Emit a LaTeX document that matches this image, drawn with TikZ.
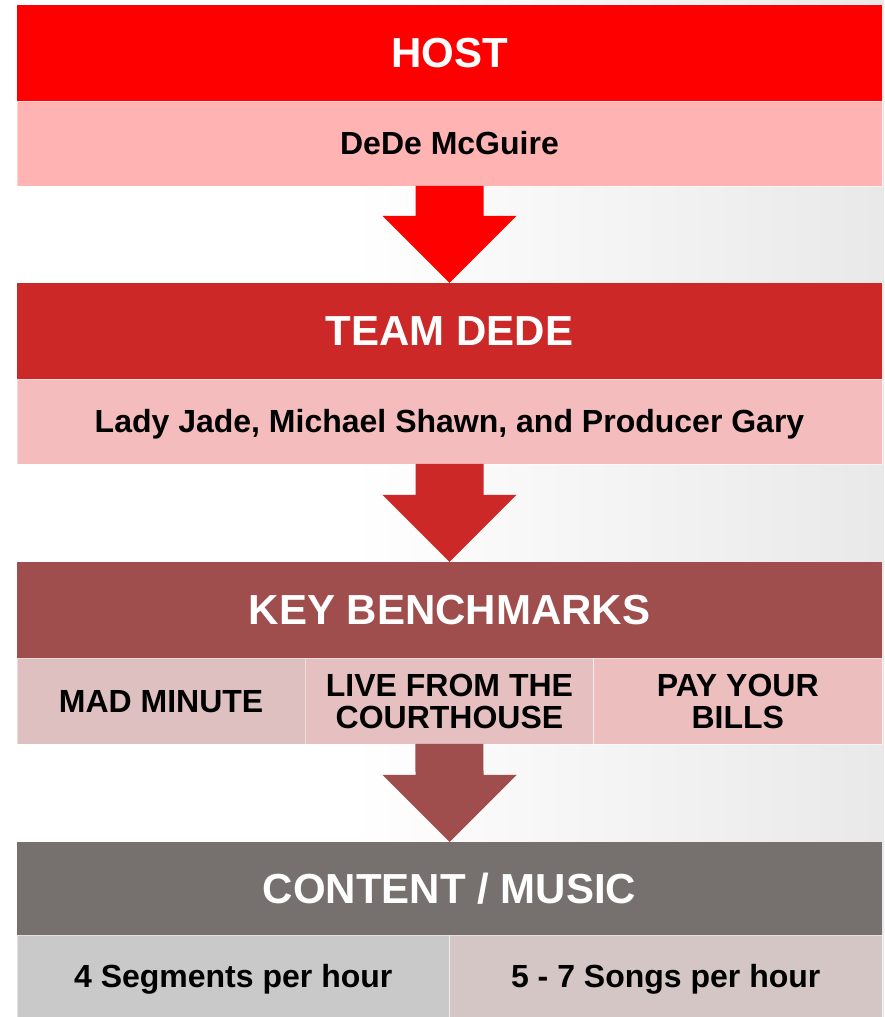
\documentclass[tikz,border=0pt]{standalone}
\usepackage{fontspec}
\setmainfont{Liberation Sans}
\usetikzlibrary{positioning,calc}
\definecolor{hostred}{HTML}{FF0000}
\definecolor{hostpink}{HTML}{FFB3B3}
\definecolor{teamred}{HTML}{CC2828}
\definecolor{teampink}{HTML}{F4BCBC}
\definecolor{keyred}{HTML}{A04D4D}
\definecolor{keypinkA}{HTML}{DFC0C1}
\definecolor{keypinkB}{HTML}{E6C0C0}
\definecolor{keypinkC}{HTML}{ECBEBE}
\definecolor{musicgray}{HTML}{76716F}
\definecolor{musicA}{HTML}{C9C9C9}
\definecolor{musicB}{HTML}{D5C6C6}
\pgfdeclarehorizontalshading{bgshade}{100bp}{color(0bp)=(white); color(45bp)=(white); color(100bp)=(black!16)}
\begin{document}
\begin{tikzpicture}[x=1pt, y=1pt,
    hdr/.style={rectangle, inner sep=0pt, outer sep=0pt, minimum width=865pt, minimum height=96pt,
        text=white, font=\fontsize{42}{44}\selectfont\bfseries, text height=30pt, text depth=0pt},
    band/.style={rectangle, inner sep=0pt, outer sep=0pt, minimum height=85pt,
        draw=white, draw opacity=.45, line width=.8pt, font=\fontsize{32}{32}\selectfont\bfseries},
    oneline/.style={text height=23pt, text depth=0pt},
    twoline/.style={align=center}]
    \useasboundingbox (0,0) rectangle (884,1017);
    \shade[shading=bgshade] (0,0) rectangle (884,1017);
    % host
    \node[hdr, fill=hostred, anchor=north] (hdA) at (449.5,1012) {HOST};
    \node[band, oneline, fill=hostpink, minimum width=865pt, below=0pt of hdA] (bdA) {DeDe McGuire};
    % team
    \node[hdr, fill=teamred, anchor=north] (hdB) at (449.5,734) {TEAM DEDE};
    \node[band, oneline, fill=teampink, minimum width=865pt, below=0pt of hdB] (bdB) {Lady Jade, Michael Shawn, and Producer Gary};
    % benchmarks
    \node[hdr, fill=keyred, anchor=north] (hdC) at (449.5,455) {KEY BENCHMARKS};
    \node[band, oneline, fill=keypinkA, minimum width=288.3pt, minimum height=86pt, anchor=north west] (kbA) at (hdC.south west) {MAD MINUTE};
    \node[band, twoline, fill=keypinkB, minimum width=288.3pt, minimum height=86pt, right=0pt of kbA] (kbB) {LIVE FROM THE\\COURTHOUSE};
    \node[band, twoline, fill=keypinkC, minimum width=288.3pt, minimum height=86pt, right=0pt of kbB] (kbC) {PAY YOUR\\BILLS};
    % content
    \node[hdr, fill=musicgray, minimum height=93pt, anchor=north] (hdD) at (449.5,175) {CONTENT / MUSIC};
    \node[band, oneline, fill=musicA, minimum width=432.5pt, minimum height=82pt, anchor=north west] (cmA) at (hdD.south west) {4 Segments per hour};
    \node[band, oneline, fill=musicB, minimum width=432.5pt, minimum height=82pt, right=0pt of cmA] (cmB) {5 - 7 Songs per hour};
    % block arrows
    \foreach \from/\to/\col in {bdA/hdB/hostred, bdB/hdC/teamred, kbB/hdD/keyred}
        \fill[\col] ($(\from.south)+(-34,0)$) -- ($(\from.south)+(34,0)$) -- ($(\to.north)+(34,67)$)
            -- ($(\to.north)+(67,67)$) -- (\to.north) -- ($(\to.north)+(-67,67)$) -- ($(\to.north)+(-34,67)$) -- cycle;
\end{tikzpicture}
\end{document}
